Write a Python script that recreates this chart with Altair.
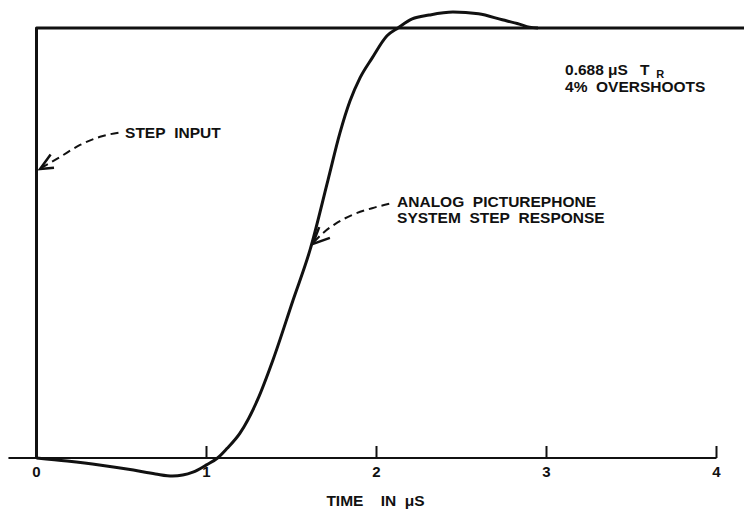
import altair as alt
import pandas as pd

# Step response of the analog Picturephone system (time in microseconds, normalised amplitude)
resp_t = [0.00, 0.18, 0.37, 0.57, 0.70, 0.80, 0.92, 1.00, 1.065, 1.12, 1.197, 1.30,
          1.391, 1.509, 1.609, 1.715, 1.785, 1.844, 1.903, 1.974, 2.062, 2.126,
          2.21, 2.31, 2.45, 2.60, 2.74, 2.84, 2.90, 2.95]
resp_v = [0.000, -0.007, -0.016, -0.028, -0.037, -0.042, -0.033, -0.016, 0.000, 0.022, 0.058,
          0.135, 0.228, 0.367, 0.484, 0.647, 0.756, 0.830, 0.884, 0.930, 0.982, 1.000,
          1.021, 1.030, 1.037, 1.033, 1.019, 1.009, 1.002, 1.000]

# Ideal step input
step_t = [0.0, 0.0, 4.3]
step_v = [0.0, 1.0, 1.0]

# Time axis
tick_values = [1, 2, 3, 4]
tick_labels = ["0", "1", "2", "3", "4"]
tick_label_pos = [0, 1, 2, 3, 4]
axis_start, axis_end = -0.165, 4.0

# Callout leaders (dashed) and their arrowheads, in data units
lead1_t = [0.503, 0.374, 0.256, 0.138, 0.026]
lead1_v = [0.758, 0.747, 0.728, 0.700, 0.674]
head1_t = [0.083, 0.021, 0.103]
head1_v = [0.706, 0.672, 0.675]

lead2_t = [2.097, 1.974, 1.856, 1.756, 1.679, 1.632]
lead2_v = [0.593, 0.581, 0.565, 0.544, 0.521, 0.502]
head2_t = [1.663, 1.626, 1.726]
head2_v = [0.537, 0.498, 0.512]

NB = "\u00a0"
note_t = [0.521, 2.121, 2.121, 3.109, 3.109]
note_v = [0.744, 0.5837, 0.5465, 0.8907, 0.851]
note_text = ["STEP" + NB * 2 + "INPUT",
             "ANALOG" + NB * 2 + "PICTUREPHONE",
             "SYSTEM" + NB * 2 + "STEP" + NB * 2 + "RESPONSE",
             "0.688 μS",
             "4%" + NB * 2 + "OVERSHOOTS"]

W, H = 744, 510
xs = alt.Scale(domain=[-0.2147, 4.1618], nice=False, zero=False)
ys = alt.Scale(domain=[-0.1209, 1.0651], nice=False, zero=False)
INK = "#111111"
FONT = "Liberation Sans"


def enc(chart, **kw):
    return chart.encode(
        x=alt.X("t:Q", scale=xs, axis=None),
        y=alt.Y("v:Q", scale=ys, axis=None),
        **kw,
    )


resp = enc(alt.Chart(pd.DataFrame({"t": resp_t, "v": resp_v})).mark_line(
    color=INK, strokeWidth=3, interpolate="monotone"))

step = enc(alt.Chart(pd.DataFrame({"t": step_t, "v": step_v, "o": [0, 1, 2]})).mark_line(
    color=INK, strokeWidth=3, clip=True, strokeJoin="round"), order="o:O")

axis_line = enc(alt.Chart(pd.DataFrame({"t": [axis_start, axis_end], "v": [0, 0]})).mark_line(
    color=INK, strokeWidth=2))

ticks = alt.Chart(pd.DataFrame({"t": tick_values, "v": [0.0] * 4, "v2": [0.028] * 4})).mark_rule(
    color=INK, strokeWidth=2).encode(
    x=alt.X("t:Q", scale=xs, axis=None),
    y=alt.Y("v:Q", scale=ys, axis=None),
    y2="v2:Q",
)

tick_text = enc(alt.Chart(pd.DataFrame({"t": tick_label_pos, "v": [-0.044] * 5,
                                        "label": tick_labels})).mark_text(
    font=FONT, fontSize=15, fontWeight="bold", color=INK, align="center", baseline="alphabetic"),
    text="label:N")

x_title = enc(alt.Chart(pd.DataFrame({
    "t": [1.994], "v": [-0.1116],
    "label": ["TIME" + NB * 4 + "IN" + NB * 2 + "μS"]})).mark_text(
    font=FONT, fontSize=15.5, fontWeight="bold", color=INK, align="center", baseline="alphabetic"),
    text="label:N")

lead1 = enc(alt.Chart(pd.DataFrame({"t": lead1_t, "v": lead1_v})).mark_line(
    color=INK, strokeWidth=2, strokeDash=[8, 5], interpolate="monotone"))
head1 = enc(alt.Chart(pd.DataFrame({"t": head1_t, "v": head1_v, "o": [0, 1, 2]})).mark_line(
    color=INK, strokeWidth=2.5, strokeJoin="miter"), order="o:O")

lead2 = enc(alt.Chart(pd.DataFrame({"t": lead2_t, "v": lead2_v})).mark_line(
    color=INK, strokeWidth=2, strokeDash=[8, 5], interpolate="monotone"))
head2 = enc(alt.Chart(pd.DataFrame({"t": head2_t, "v": head2_v, "o": [0, 1, 2]})).mark_line(
    color=INK, strokeWidth=2.5, strokeJoin="miter"), order="o:O")

notes = enc(alt.Chart(pd.DataFrame({"t": note_t, "v": note_v, "label": note_text})).mark_text(
    font=FONT, fontSize=15.5, fontWeight="bold", color=INK, align="left", baseline="alphabetic"),
    text="label:N")

# Rise-time symbol T with subscript R
t_sym = enc(alt.Chart(pd.DataFrame({"t": [3.550], "v": [0.8907], "label": ["T"]})).mark_text(
    font=FONT, fontSize=15.5, fontWeight="bold", color=INK, align="left", baseline="alphabetic"),
    text="label:N")
sub_r = enc(alt.Chart(pd.DataFrame({"t": [3.645], "v": [0.884], "label": ["R"]})).mark_text(
    font=FONT, fontSize=11, fontWeight="bold", color=INK, align="left", baseline="alphabetic"),
    text="label:N")

chart = alt.layer(
    axis_line, ticks, step, resp, lead1, head1, lead2, head2, notes, t_sym, sub_r,
    tick_text, x_title
).properties(
    width=W, height=H, padding=0, autosize=alt.AutoSizeParams(type="none"), background="white"
).configure_view(strokeWidth=0)

chart.save("out.html", embed_options={"renderer": "svg", "actions": False})
